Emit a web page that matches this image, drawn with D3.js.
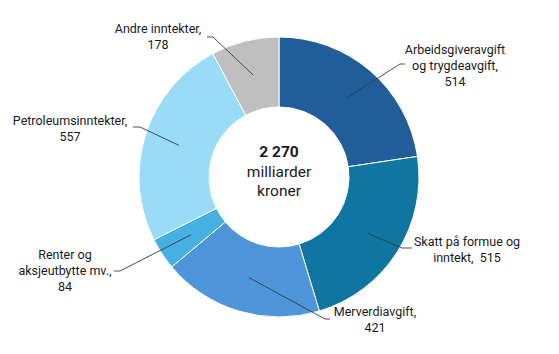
<!DOCTYPE html>
<html lang="no">
  <head>
    <meta charset="UTF-8" />
    <title>Inntekter</title>
    <script src="https://d3js.org/d3.v7.min.js"></script>
    <style>
      body { margin: 0; background: #fff; }
      text { font-family: Roboto, "Open Sans", sans-serif; fill: #1a1a1a; white-space: pre; }
    </style>
  </head>
  <body>
    <script>
      // data, clockwise from twelve o'clock
      var categories = [
        "Arbeidsgiveravgift og trygdeavgift",
        "Skatt på formue og inntekt",
        "Merverdiavgift",
        "Renter og aksjeutbytte mv.",
        "Petroleumsinntekter",
        "Andre inntekter"
      ];
      var values = [514, 515, 421, 84, 557, 178];
      var labelLines = [
        ["Arbeidsgiveravgift", "og trygdeavgift,", "514"],
        ["Skatt på formue og", "inntekt,  515"],
        ["Merverdiavgift,", "421"],
        ["Renter og", "aksjeutbytte mv.,", "84"],
        ["Petroleumsinntekter,", "557"],
        ["Andre inntekter,", "178"]
      ];
      var centerLines = ["2 270", "milliarder", "kroner"];
      var colors = ["#215e99", "#0e76a0", "#4e95d9", "#45b0e1", "#9adcf8", "#bfbfbf"];

      // label placement (text centre x, first line y, stub start/end x, stub y)
      var labelLayout = [
        { x: 455, y: 50, sx0: 400, sx1: 405, sy: 64 },
        { x: 467, y: 242, sx0: 402, sx1: 412, sy: 248 },
        { x: 375, y: 312, sx0: 325, sx1: 330, sy: 319 },
        { x: 65, y: 255, sx0: 120, sx1: 114, sy: 271 },
        { x: 70, y: 121, sx0: 140, sx1: 133, sy: 127 },
        { x: 158, y: 29, sx0: 213, sx1: 207, sy: 37 }
      ];

      var width = 559, height = 354;
      var cx = 279, cy = 177;
      var outerR = 140, innerR = 70;

      var svg = d3
        .select("body")
        .append("svg")
        .attr("width", width)
        .attr("height", height);

      var pie = d3.pie().sort(null).value(function (d) { return d; });
      var arc = d3.arc().innerRadius(innerR).outerRadius(outerR);
      var arcs = pie(values);

      var g = svg.append("g").attr("transform", "translate(" + cx + "," + cy + ")");

      g.selectAll(".slice")
        .data(arcs)
        .enter()
        .append("path")
        .attr("class", "slice")
        .attr("d", arc)
        .attr("fill", function (d, i) { return colors[i]; })
        .attr("stroke", "#fff")
        .attr("stroke-width", 1);

      // leader lines: label stub -> elbow -> slice centroid
      svg.selectAll(".leader")
        .data(arcs)
        .enter()
        .append("polyline")
        .attr("class", "leader")
        .attr("fill", "none")
        .attr("stroke", "#3a3a3a")
        .attr("stroke-width", 0.9)
        .attr("points", function (d, i) {
          var c = arc.centroid(d);
          var L = labelLayout[i];
          return [[L.sx1, L.sy], [L.sx0, L.sy], [c[0] + cx, c[1] + cy]].join(" ");
        });

      var labels = svg.selectAll(".label")
        .data(labelLines)
        .enter()
        .append("text")
        .attr("class", "label")
        .attr("text-anchor", "middle")
        .style("font-size", "12.5px");

      labels.selectAll("tspan")
        .data(function (d, i) {
          return d.map(function (t) { return { t: t, i: i }; });
        })
        .enter()
        .append("tspan")
        .attr("x", function (d) { return labelLayout[d.i].x; })
        .attr("y", function (d, j) { return labelLayout[d.i].y + j * 16; })
        .attr("dy", "0.35em")
        .text(function (d) { return d.t; });

      // centre text
      g.selectAll(".center")
        .data(centerLines)
        .enter()
        .append("text")
        .attr("class", "center")
        .attr("text-anchor", "middle")
        .attr("x", 0)
        .attr("y", function (d, i) { return -25 + i * 19.5; })
        .attr("dy", "0.35em")
        .style("font-size", "15.5px")
        .style("font-weight", function (d, i) { return i === 0 ? "bold" : "normal"; })
        .text(function (d) { return d; });
    </script>
  </body>
</html>
